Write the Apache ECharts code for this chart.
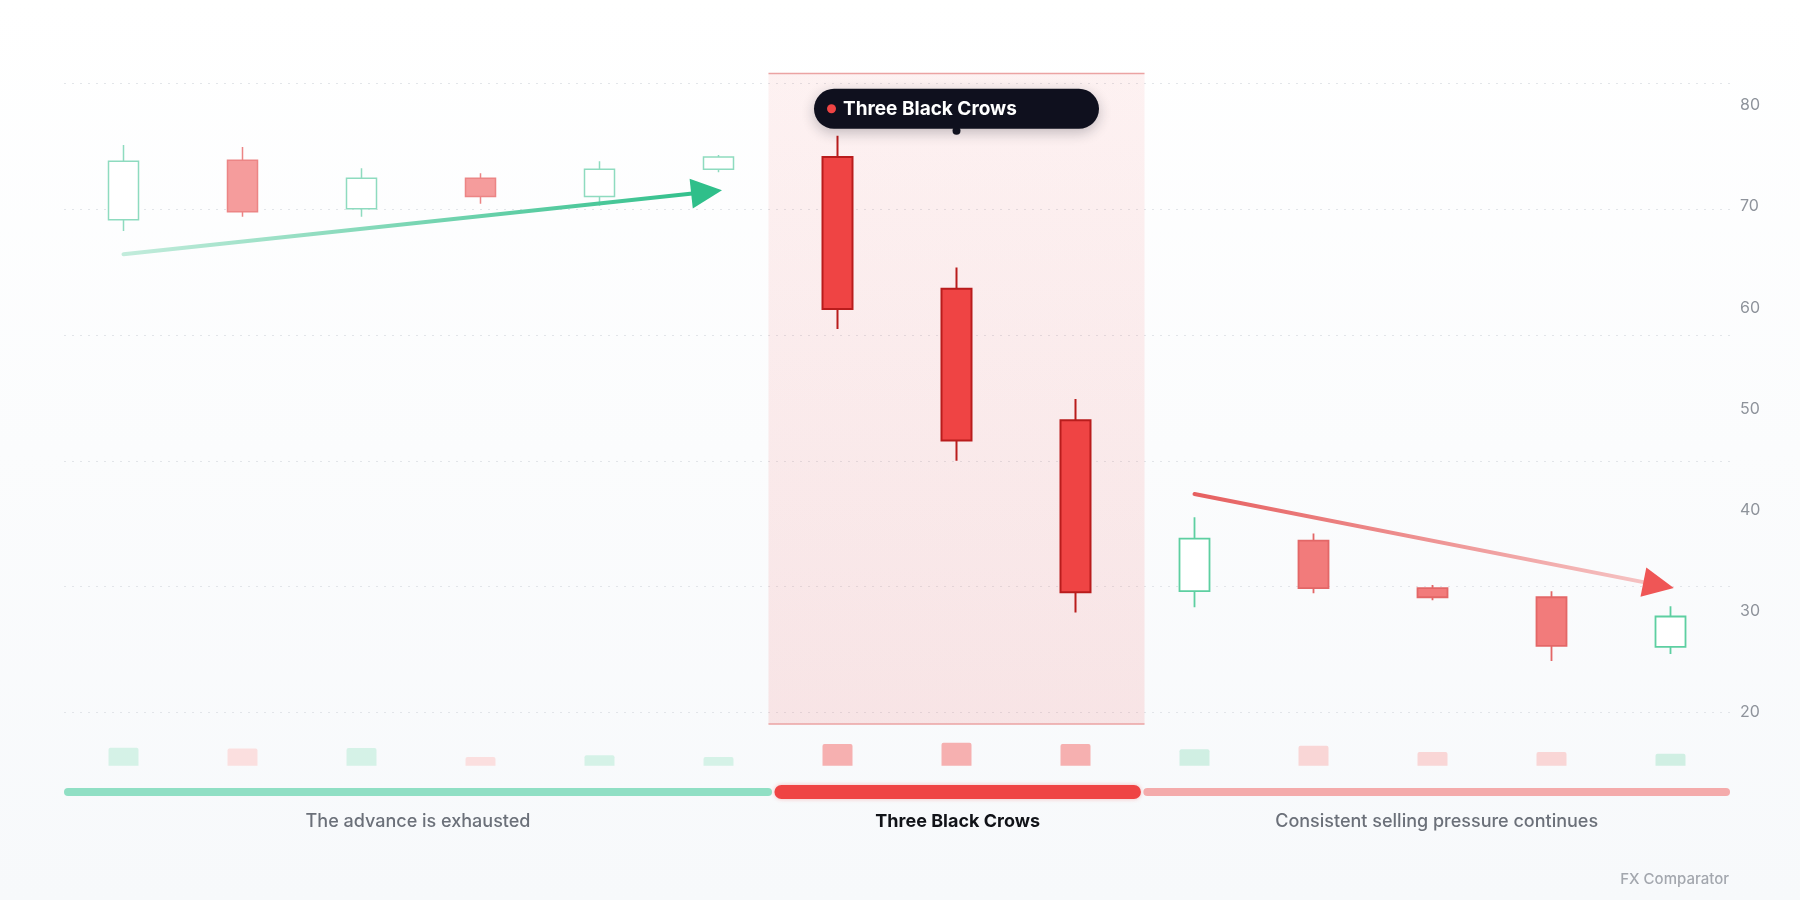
<!DOCTYPE html>
<html><head><meta charset="utf-8">
<script src="https://cdn.jsdelivr.net/npm/echarts@6/dist/echarts.min.js"></script>
<style>html,body{margin:0;padding:0;background:#fff}#c{width:1800px;height:900px}</style>
</head><body><div id="c"></div>
<script>
// ---- data ----
const categories = ['D1','D2','D3','D4','D5','D6','D7','D8','D9','D10','D11','D12','D13','D14'];
const opens  = [68.7, 74.6, 69.8, 72.8, 71.0, 73.7, 74.9, 61.9, 48.9, 32.0, 37.0, 32.3, 31.4, 26.5];
const closes = [74.5, 69.5, 72.8, 71.0, 73.7, 74.9, 59.9, 46.9, 31.9, 37.2, 32.3, 31.4, 26.6, 29.5];
const lows   = [67.6, 69.0, 69.0, 70.3, 70.1, 73.4, 57.9, 44.9, 29.9, 30.4, 31.8, 31.1, 25.1, 25.8];
const highs  = [76.1, 75.9, 73.8, 73.3, 74.5, 75.1, 77.0, 64.0, 51.0, 39.3, 37.7, 32.6, 32.0, 30.5];
const volumes = [78, 75, 77, 38, 45, 38, 94, 100, 94, 71, 87, 60, 60, 52];
const phaseOf = [0,0,0,0,0,0,1,1,1,2,2,2,2,2];
const phaseNames = ['The advance is exhausted', 'Three Black Crows', 'Consistent selling pressure continues'];
const phaseRanges = [[-0.5, 5.45], [5.47, 8.55], [8.57, 13.5]];
const patternRange = [5.42, 8.58];
const yTickLabels = [20, 30, 40, 50, 60, 70, 80];
const upTrendLine = [[0, 65.3], [4.9, 71.45]];
const downTrendLine = [[9.0, 41.6], [12.9, 32.6]];
const patternLabel = { name: 'Three Black Crows', at: [7, 77.5] };
const watermark = 'FX Comparator';

// ---- styles ----
const FONT = 'Inter, "Noto Sans", sans-serif';
const candleStyles = [
  { up: { fill: '#ffffff', border: '#8edbbf' }, down: { fill: '#f59c9c', border: '#ec8585' }, bw: 1.5 },
  { up: { fill: '#ffffff', border: '#2fbf8a' }, down: { fill: '#ef4444', border: '#b91c1c' }, bw: 2 },
  { up: { fill: '#ffffff', border: '#5dcfa1' }, down: { fill: '#f27b7b', border: '#e36767' }, bw: 1.8 }
];
const volColors = [
  { up: '#d5f2e7', down: '#fbdfdf' },
  { up: '#d5f2e7', down: '#f6b0b0' },
  { up: '#d0efe3', down: '#f9d6d6' }
];
const phaseColors = ['#90dfc4', '#ef4444', '#f4abab'];

const candleData = categories.map((c, i) => {
  const s = candleStyles[phaseOf[i]];
  const isUp = closes[i] >= opens[i];
  const st = isUp ? s.up : s.down;
  return {
    value: [opens[i], closes[i], lows[i], highs[i]],
    itemStyle: { color: st.fill, color0: st.fill, borderColor: st.border, borderColor0: st.border, borderWidth: s.bw }
  };
});
const volData = categories.map((c, i) => {
  const isUp = closes[i] >= opens[i];
  return { value: volumes[i], itemStyle: { color: isUp ? volColors[phaseOf[i]].up : volColors[phaseOf[i]].down } };
});

const G = echarts.graphic;
const chart = echarts.init(document.getElementById('c'));
const L = 64, R = 70;
const option = {
  backgroundColor: new G.LinearGradient(0, 0, 0, 1, [{ offset: 0, color: '#ffffff' }, { offset: 1, color: '#f7f9fb' }]),
  animation: false,
  textStyle: { fontFamily: FONT },
  title: {
    text: watermark, right: 66, bottom: 8,
    textStyle: { fontSize: 15, color: '#a3a7ae', fontWeight: 500, fontFamily: FONT }
  },
  grid: [
    { left: L, right: R, top: 105.5, bottom: 187.4 },   // 0 candles
    { left: L, right: R, top: 83.3, bottom: 187.4 },    // 1 grid lines
    { left: L, right: R, top: 73.5, bottom: 176 },      // 2 pattern band
    { left: L, right: R, top: 742.7, bottom: 134.3 },   // 3 volume
    { left: L, right: R, top: 780, height: 24 }         // 4 phases
  ],
  xAxis: [
    { type: 'category', data: categories, gridIndex: 0, show: false, boundaryGap: true },
    { type: 'value', gridIndex: 0, min: -0.5, max: 13.5, show: false },
    { type: 'value', gridIndex: 1, min: 0, max: 1, show: false },
    { type: 'value', gridIndex: 2, min: -0.5, max: 13.5, show: false },
    { type: 'category', data: categories, gridIndex: 3, show: false, boundaryGap: true },
    { type: 'value', gridIndex: 4, min: -0.5, max: 13.5, show: false }
  ],
  yAxis: [
    { type: 'value', gridIndex: 0, position: 'right', min: yTickLabels[0], max: yTickLabels[yTickLabels.length - 1], interval: 10,
      axisLine: { show: false }, axisTick: { show: false }, splitLine: { show: false },
      axisLabel: { color: '#8e939b', fontSize: 16, margin: 10, fontFamily: FONT, padding: [5, 0, 0, 0] } },
    { type: 'value', gridIndex: 1, min: 0, max: 5, interval: 1,
      axisLine: { show: false }, axisTick: { show: false }, axisLabel: { show: false },
      splitLine: { show: true, lineStyle: { color: '#e2e5e9', width: 1, type: [2, 6] } } },
    { type: 'value', gridIndex: 2, min: 0, max: 1, show: false },
    { type: 'value', gridIndex: 3, min: 0, max: 100, show: false },
    { type: 'value', gridIndex: 4, min: 0, max: 1, show: false }
  ],
  series: [
    { // pattern band
      type: 'custom', xAxisIndex: 3, yAxisIndex: 2, z: 0, silent: true,
      data: [[patternRange[0], patternRange[1]]],
      renderItem: (params, api) => {
        const p0 = api.coord([api.value(0), 1]);
        const p1 = api.coord([api.value(1), 0]);
        return { type: 'group', children: [
          { type: 'rect', shape: { x: p0[0], y: p0[1], width: p1[0] - p0[0], height: p1[1] - p0[1] },
            style: { fill: new G.LinearGradient(0, 0, 0, 1, [{ offset: 0, color: 'rgba(239,68,68,0.07)' }, { offset: 1, color: 'rgba(239,68,68,0.12)' }]) } },
          { type: 'line', shape: { x1: p0[0], y1: p0[1], x2: p1[0], y2: p0[1] }, style: { stroke: '#eba3a3', lineWidth: 1.5 } },
          { type: 'line', shape: { x1: p0[0], y1: p1[1], x2: p1[0], y2: p1[1] }, style: { stroke: '#eba3a3', lineWidth: 1.5 } }
        ]};
      }
    },
    { // grid line carrier
      type: 'line', xAxisIndex: 2, yAxisIndex: 1, data: [], silent: true
    },
    {
      type: 'candlestick', xAxisIndex: 0, yAxisIndex: 0, barWidth: 30, z: 3,
      data: candleData
    },
    { // up-trend arrow shaft
      type: 'line', xAxisIndex: 1, yAxisIndex: 0, z: 4, clip: false, symbol: 'none', silent: true,
      data: upTrendLine,
      lineStyle: { width: 4, cap: 'round', color: new G.LinearGradient(0, 0, 1, 0, [{ offset: 0, color: '#c3ecdc' }, { offset: 1, color: '#2fbf8a' }]) }
    },
    { // up-trend arrow head
      type: 'scatter', xAxisIndex: 1, yAxisIndex: 0, z: 5, silent: true,
      data: [upTrendLine[1]], symbol: 'triangle', symbolSize: [30, 31], symbolRotate: -83.9,
      itemStyle: { color: '#2fbf8a', opacity: 1 }
    },
    { // down-trend arrow shaft
      type: 'line', xAxisIndex: 1, yAxisIndex: 0, z: 4, clip: false, symbol: 'none', silent: true,
      data: downTrendLine,
      lineStyle: { width: 4, cap: 'round', color: new G.LinearGradient(0, 0, 1, 0, [{ offset: 0, color: '#e65f5f' }, { offset: 1, color: '#f6c6c6' }]) }
    },
    { // down-trend arrow head
      type: 'scatter', xAxisIndex: 1, yAxisIndex: 0, z: 5, silent: true,
      data: [downTrendLine[1]], symbol: 'triangle', symbolSize: [30, 31], symbolRotate: -101.2,
      itemStyle: { color: '#ef5656', opacity: 1 }
    },
    { // pattern label pill
      type: 'scatter', xAxisIndex: 1, yAxisIndex: 0, z: 10, silent: true,
      data: [patternLabel.at], symbol: 'circle', symbolSize: 8,
      itemStyle: { color: '#10111e', opacity: 1 },
      label: {
        show: true, position: 'top', distance: -2, align: 'center',
        formatter: '{d|}{s|}{t|' + patternLabel.name + '}',
        backgroundColor: '#0f101e', borderRadius: 20,
        padding: [10, 14, 10, 13], width: 258,
        shadowBlur: 14, shadowColor: 'rgba(15,16,30,0.25)', shadowOffsetY: 4,
        rich: {
          d: { width: 9, height: 9, borderRadius: 4.5, backgroundColor: '#ef4444', align: 'left' },
          s: { width: 7, align: 'left' },
          t: { color: '#ffffff', fontSize: 19, fontWeight: 700, fontFamily: FONT, lineHeight: 20, align: 'left' }
        }
      }
    },
    { // volume
      type: 'bar', xAxisIndex: 4, yAxisIndex: 3, barWidth: 30, silent: true,
      data: volData, itemStyle: { borderRadius: [2, 2, 0, 0] }
    },
    { // phases
      type: 'custom', xAxisIndex: 5, yAxisIndex: 4, silent: true,
      data: phaseRanges.map((r, i) => [r[0], r[1], i]),
      renderItem: (params, api) => {
        const a = api.coord([api.value(0), 0.5]);
        const b = api.coord([api.value(1), 0.5]);
        const i = api.value(2);
        const h = i === 1 ? 14 : 8;
        return { type: 'group', children: [
          { type: 'rect', shape: { x: a[0], y: a[1] - h / 2, width: b[0] - a[0], height: h, r: h / 2 },
            style: { fill: phaseColors[i], shadowBlur: i === 1 ? 4 : 0, shadowColor: 'rgba(239,68,68,0.35)' } },
          { type: 'text', x: (a[0] + b[0]) / 2, y: a[1] + 30,
            style: { text: phaseNames[i], fill: i === 1 ? '#111318' : '#6b7079',
              font: (i === 1 ? '700 ' : '500 ') + '18px ' + FONT, align: 'center', verticalAlign: 'middle' } }
        ]};
      }
    }
  ]
};
chart.setOption(option);
</script></body></html>
